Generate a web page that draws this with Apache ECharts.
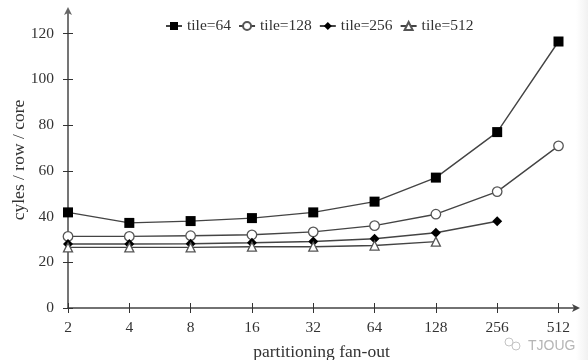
<!DOCTYPE html>
<html><head><meta charset="utf-8">
<style>html,body{margin:0;padding:0;background:#fff}#c{width:588px;height:360px}</style>
<script src="https://cdn.jsdelivr.net/npm/echarts@6/dist/echarts.min.js"></script>
</head><body><div id="c"></div>
<script>
const fanOut = [2, 4, 8, 16, 32, 64, 128, 256, 512];
const yTicks = [0, 20, 40, 60, 80, 100, 120];
const tile64 = [41.8, 37.2, 38, 39.3, 41.8, 46.5, 57, 76.9, 116.5];
const tile128 = [31.3, 31.3, 31.6, 32, 33.3, 36, 41, 50.9, 70.9];
const tile256 = [28, 28, 28.1, 28.5, 29.1, 30.3, 32.9, 37.9];
const tile512 = [26.5, 26.5, 26.5, 26.8, 26.8, 27.3, 29];
const names = ['tile=64', 'tile=128', 'tile=256', 'tile=512'];

const serif = '"Liberation Serif", serif';
const ink = '#333';
const pairs = a => a.map((v, i) => [fanOut[i], v]);
const xMax = 617, yMax = 129.4;
const grid = {left: 68, right: 588 - 575, top: 12, bottom: 52, outerBoundsMode: 'none'};

function line(name, data, symbol, size, fill) {
  return {name, type: 'line', data: pairs(data), symbol, symbolSize: size, showSymbol: true,
    lineStyle: {color: '#444', width: 1.4},
    itemStyle: {color: fill, borderColor: fill === '#fff' ? '#555' : '#000', borderWidth: fill === '#fff' ? 1.3 : 0, opacity: 1},
    animation: false, z: 3};
}
const chart = echarts.init(document.getElementById('c'), null, {renderer: 'canvas'});
chart.setOption({
  animation: false,
  backgroundColor: '#fff',
  grid,
  legend: {
    left: 165, top: 18, itemWidth: 16, itemHeight: 10, itemGap: 7, padding: 0,
    selectedMode: false,
    data: names,
    textStyle: {fontFamily: serif, fontSize: 15.5, color: ink, padding: [12, 0, 0, 0]}
  },
  xAxis: [{
    type: 'log', logBase: 2, min: 2, max: xMax,
    splitLine: {show: false},
    name: 'partitioning fan-out', nameLocation: 'middle', nameGap: 35, nameMoveOverlap: false,
    nameTextStyle: {fontFamily: serif, fontSize: 17.5, color: ink},
    axisLine: {onZero: false, lineStyle: {color: '#444', width: 1.5}, symbol: ['none', 'arrow'], symbolSize: [6, 8], symbolOffset: [0, 5]},
    axisTick: {length: 5, lineStyle: {color: '#333', width: 1}, customValues: fanOut},
    axisLabel: {fontFamily: serif, fontSize: 15.5, color: ink, margin: 12, customValues: fanOut, formatter: v => String(Math.round(v))}
  }, {
    type: 'log', logBase: 2, min: 2, max: xMax, position: 'bottom', show: true,
    splitLine: {show: false}, axisLine: {show: false}, axisLabel: {show: false},
    axisTick: {inside: true, length: 5, lineStyle: {color: '#333', width: 1}, customValues: fanOut}
  }],
  yAxis: [{
    type: 'value', min: 0, max: yMax,
    splitLine: {show: false},
    name: 'cyles / row / core', nameLocation: 'middle', nameGap: 40, nameMoveOverlap: false,
    nameTextStyle: {fontFamily: serif, fontSize: 17.5, color: ink},
    axisLine: {onZero: false, lineStyle: {color: '#666', width: 1.8}, symbol: ['none', 'arrow'], symbolSize: [6, 8], symbolOffset: [0, 5]},
    axisTick: {length: 5, lineStyle: {color: '#333', width: 1}, customValues: yTicks},
    axisLabel: {fontFamily: serif, fontSize: 15.5, color: ink, margin: 14, customValues: yTicks}
  }, {
    type: 'value', min: 0, max: yMax, position: 'left', show: true,
    splitLine: {show: false}, axisLine: {show: false}, axisLabel: {show: false},
    axisTick: {inside: true, length: 5, lineStyle: {color: '#333', width: 1}, customValues: yTicks}
  }],
  series: [
    line(names[0], tile64, 'rect', 10, '#000'),
    line(names[1], tile128, 'circle', 9.5, '#fff'),
    line(names[2], tile256, 'diamond', 10, '#000'),
    line(names[3], tile512, 'triangle', 9, '#fff')
  ],
  graphic: [
    {type: 'rect', shape: {x: 576, y: 0, width: 12, height: 360}, silent: true, z: -1,
      style: {fill: new echarts.graphic.LinearGradient(0, 0, 1, 0, [{offset: 0, color: '#ffffff'}, {offset: 1, color: '#f1f1f1'}])}},
    {type: 'text', left: 528, top: 339, silent: true,
      style: {text: 'TJOUG', fontFamily: '"Liberation Sans", sans-serif', fontSize: 14, fill: '#b5b5b5'}},
    {type: 'circle', shape: {cx: 509, cy: 342, r: 4}, silent: true, style: {fill: 'none', stroke: '#c4c4c4', lineWidth: 1}},
    {type: 'circle', shape: {cx: 516, cy: 346, r: 4}, silent: true, style: {fill: 'none', stroke: '#c4c4c4', lineWidth: 1}}
  ]
});
</script></body></html>
